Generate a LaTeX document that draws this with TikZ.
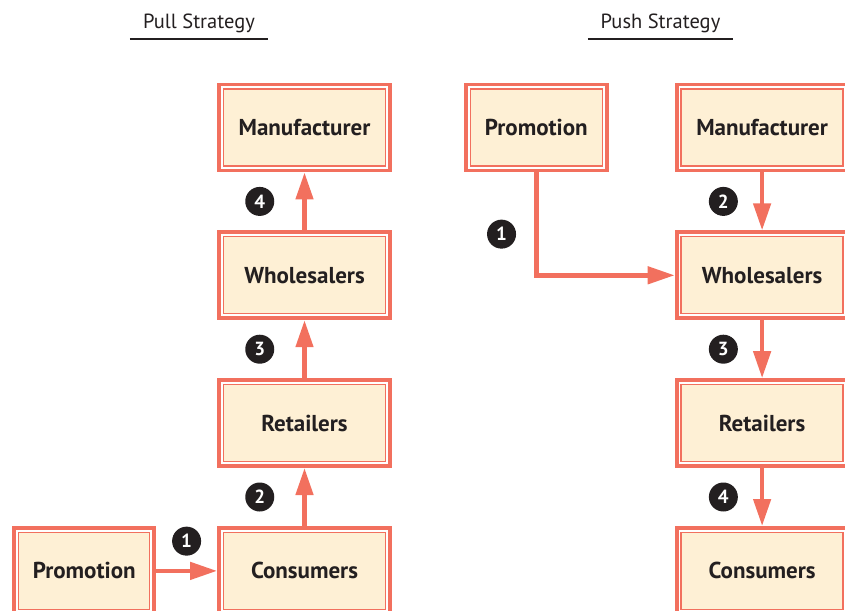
\documentclass[tikz,border=0pt]{standalone}
\usepackage{fontspec}
\setmainfont{PT Sans}
\usetikzlibrary{arrows.meta, positioning}
\definecolor{flowred}{HTML}{F2705E}
\definecolor{boxcream}{HTML}{FEF0D5}
\definecolor{badgeblack}{HTML}{231F20}

\begin{document}
\begin{tikzpicture}[
    x=1pt, y=-1pt,
    node distance=58pt and 72pt,
    box/.style={rectangle, draw=flowred, line width=3.8pt, fill=white,
                minimum width=171pt, minimum height=86pt,
                text=badgeblack, font=\fontsize{23}{26}\selectfont\bfseries,
                path picture={\draw[flowred, line width=1.3pt, fill=boxcream]
                    ([shift={(4.5pt,-4.5pt)}]path picture bounding box.north west) rectangle
                    ([shift={(-4.5pt,4.5pt)}]path picture bounding box.south east);}},
    badge/.style={circle, fill=badgeblack, text=white, inner sep=0pt,
                  minimum size=29pt, font=\fontsize{19}{20}\selectfont\bfseries},
    title/.style={anchor=base, text=badgeblack, font=\fontsize{20.5}{24}\selectfont,
                  inner xsep=0pt, inner ysep=5pt, text depth=5pt},
    rule/.style={line width=2.5pt, draw=badgeblack},
    flow/.style={-{Triangle[length=27pt, width=17pt]}, line width=4.5pt, draw=flowred}
]
\useasboundingbox (0,0) rectangle (845,610);
\clip (0,0) rectangle (845,610);

% titles
\node[title, minimum width=138pt] (pulltitle) at (199,29) {Pull Strategy};
\node[title, minimum width=145pt] (pushtitle) at (660.5,29) {Push Strategy};
\draw[rule] (pulltitle.south west) -- (pulltitle.south east);
\draw[rule] (pushtitle.south west) -- (pushtitle.south east);

% pull strategy
\node[box] (pullmanu) at (304.5,127.5) {Manufacturer};
\node[box, below=of pullmanu]  (pullwhole) {Wholesalers};
\node[box, below=of pullwhole] (pullret)   {Retailers};
\node[box, below=of pullret]   (pullcons)  {Consumers};
\node[box, minimum width=140pt, left=61pt of pullcons] (pullpromo) {Promotion};

\draw[flow] (pullpromo) -- node[badge, above=13pt] {1} (pullcons);
\draw[flow] (pullcons)  -- node[badge, left=28pt] {2} (pullret);
\draw[flow] (pullret)   -- node[badge, left=28pt] {3} (pullwhole);
\draw[flow] (pullwhole) -- node[badge, left=28pt] {4} (pullmanu);

% push strategy
\node[box, minimum width=141pt, right=72pt of pullmanu] (pushpromo) {Promotion};
\node[box, right=66pt of pushpromo] (pushmanu)  {Manufacturer};
\node[box, below=of pushmanu]       (pushwhole) {Wholesalers};
\node[box, below=of pushwhole]      (pushret)   {Retailers};
\node[box, below=of pushret]        (pushcons)  {Consumers};

\draw[flow] (pushpromo) |- node[badge, pos=0.3, left=18pt] {1} (pushwhole);
\draw[flow] (pushmanu)  -- node[badge, left=22pt] {2} (pushwhole);
\draw[flow] (pushwhole) -- node[badge, left=22pt] {3} (pushret);
\draw[flow] (pushret)   -- node[badge, left=22pt] {4} (pushcons);

\end{tikzpicture}
\end{document}
